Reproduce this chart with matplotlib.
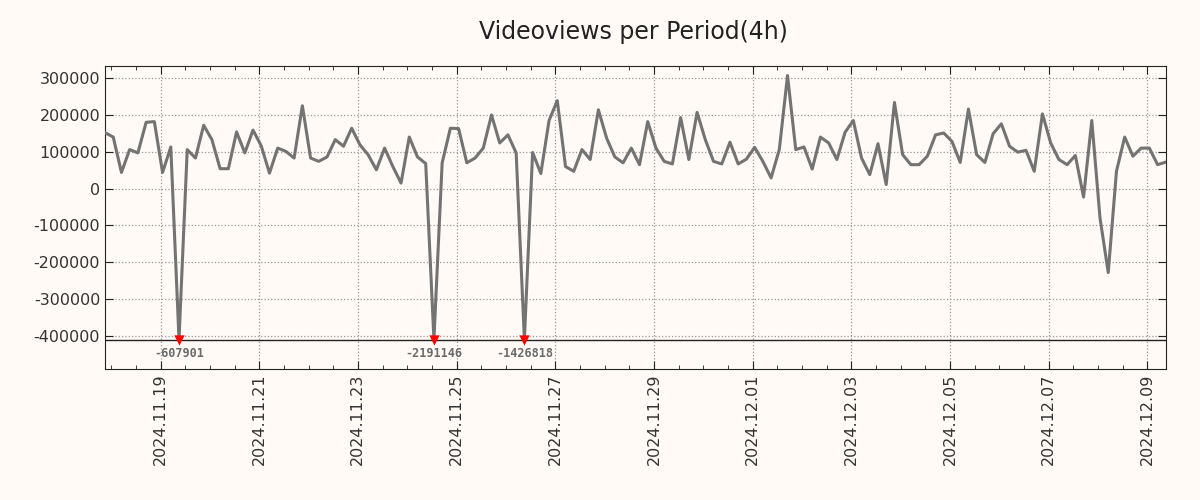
#!/usr/bin/env python3
# -*- coding: utf-8 -*-
"""Videoviews per 4h period with clipped outliers."""

from matplotlib import pyplot as plt
import matplotlib.dates as mdates
import numpy as np
import pandas as pd

start = "2024-11-17 21:00"
period = "4h"
views = [
    152000, 140000, 44000, 106000, 97000, 180000, 182000, 44000, 113000, -607901,
    106000, 83000, 172000, 133000, 54000, 54000, 154000, 97000, 159000, 116000,
    42000, 110000, 101000, 83000, 225000, 83000, 74000, 86000, 133000, 115000,
    164000, 119000, 92000, 51000, 110000, 60000, 15000, 140000, 86000, 68000,
    -2191146, 70000, 164000, 163000, 70000, 83000, 110000, 200000, 124000, 146000,
    97000, -1426818, 98000, 41000, 185000, 239000, 60000, 47000, 106000, 79000,
    214000, 137000, 86000, 70000, 110000, 65000, 182000, 110000, 74000, 67000,
    193000, 79000, 207000, 133000, 74000, 67000, 126000, 67000, 80000, 112000,
    74000, 29000, 106000, 307000, 106000, 113000, 53000, 140000, 124000, 79000,
    153000, 185000, 83000, 38000, 122000, 11000, 234000, 92000, 65000, 65000,
    88000, 146000, 151000, 128000, 71000, 216000, 92000, 71000, 149000, 176000,
    115000, 99000, 104000, 47000, 203000, 124000, 79000, 65000, 90000, -23000,
    185000, -80000, -228000, 47000, 140000, 88000, 110000, 110000, 65000, 72000,
]
clip_level = -410000

bg = "#fffaf6"
times = pd.date_range(start, periods=len(views), freq=period)
values = np.array(views, dtype=float)
shown = np.clip(values, clip_level, None)
outliers = np.where(values < clip_level)[0]

fig = plt.figure(figsize=(12, 5), dpi=100, facecolor=bg)
ax = fig.add_axes([0.0875, 0.262, 0.884, 0.606], facecolor=bg)

ax.plot(times, shown, color="#737373", linewidth=2.2, zorder=3)
ax.axhline(clip_level, color="#222222", linewidth=1.0, zorder=2)
ax.scatter(times[outliers], [clip_level] * len(outliers), marker="v", s=55,
           color="#ff0000", zorder=4, linewidths=0)
for idx in outliers:
    ax.annotate(f"{int(values[idx])}", (times[idx], clip_level),
                xytext=(0, -10), textcoords="offset points",
                ha="center", va="center", family="DejaVu Sans Mono",
                fontweight="bold", fontsize=8.5, color="#6a6a6a")

ax.set_xlim(times[0], times[-1])
ax.set_ylim(-490000, 333000)
ax.set_yticks(np.arange(-400000, 300001, 100000))
ax.yaxis.set_major_formatter(plt.FuncFormatter(lambda v, _: f"{int(v)}"))

major = pd.date_range("2024-11-19", "2024-12-09", freq="2D")
ax.set_xticks(major)
ax.xaxis.set_major_formatter(mdates.DateFormatter("%Y.%m.%d"))
ax.xaxis.set_minor_locator(mdates.HourLocator(byhour=[0, 12]))
plt.setp(ax.get_xticklabels(), rotation=90)

ax.tick_params(which="both", direction="in", top=True, right=True,
               labelsize=11.5, labelcolor="#333333", color="#222222")
ax.tick_params(which="major", length=6)
ax.tick_params(which="minor", length=3)
ax.grid(which="major", linestyle=":", color="#999999", linewidth=0.9)
for spine in ax.spines.values():
    spine.set_color("#222222")

fig.suptitle("Videoviews per Period(4h)", x=0.528, y=0.96, fontsize=17,
             color="#222222")

fig.savefig("out.png", facecolor=bg)
plt.close(fig)
